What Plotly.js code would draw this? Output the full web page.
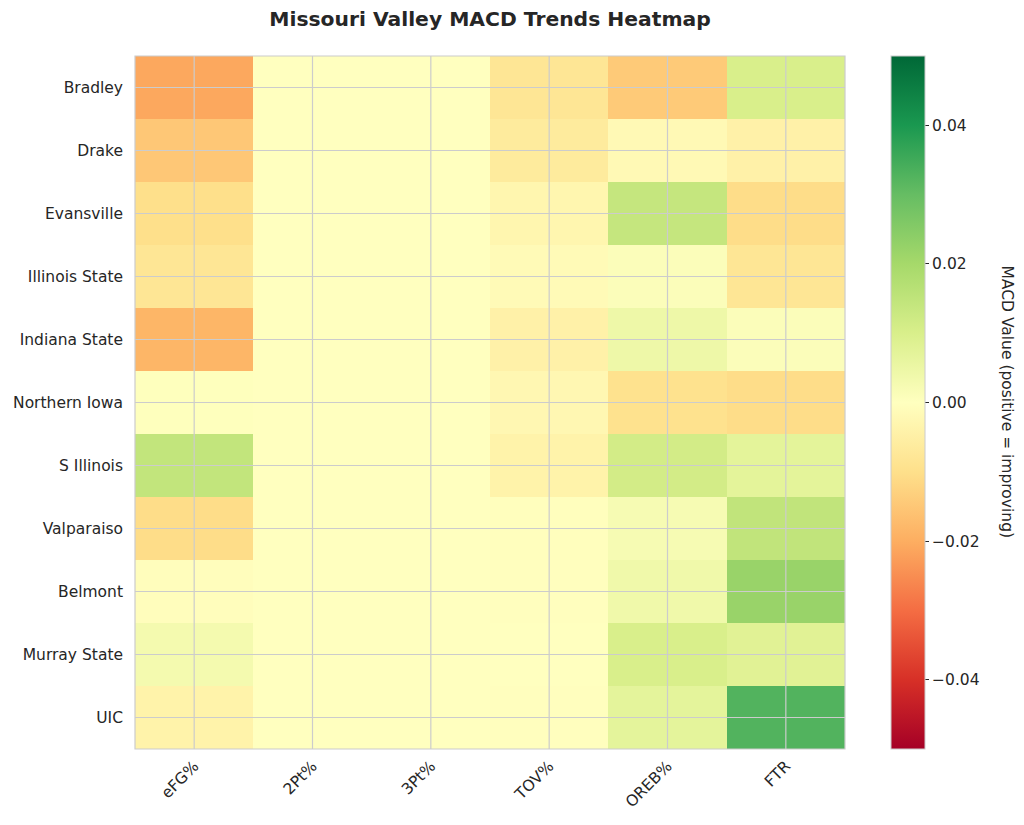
<!DOCTYPE html>
<html>
<head>
<meta charset="utf-8">
<script src="https://cdn.plot.ly/plotly-3.0.1.min.js"></script>
<style>html,body{margin:0;padding:0;background:#fff;}</style>
</head>
<body>
<div id="chart" style="width:1024px;height:825px;"></div>
<script>
const metrics = ['eFG%', '2Pt%', '3Pt%', 'TOV%', 'OREB%', 'FTR'];
const teams = ['Bradley', 'Drake', 'Evansville', 'Illinois State', 'Indiana State',
  'Northern Iowa', 'S Illinois', 'Valparaiso', 'Belmont', 'Murray State', 'UIC'];

// MACD values per team, in metric order
const bradley       = [-0.021, 0, 0, -0.008, -0.0145, 0.010];
const drake         = [-0.015, 0, 0, -0.0065, -0.002, -0.0045];
const evansville    = [-0.010, 0, 0, -0.003, 0.014, -0.0105];
const illinoisState = [-0.008, 0, 0, -0.0015, 0.001, -0.008];
const indianaState  = [-0.0185, 0, 0, -0.0045, 0.0045, 0.001];
const northernIowa  = [0.0003, 0, 0, -0.0025, -0.0095, -0.0105];
const sIllinois     = [0.0145, 0, 0, -0.004, 0.0112, 0.0071];
const valparaiso    = [-0.0105, 0, 0, -0.0003, 0.0024, 0.0148];
const belmont       = [-0.0005, 0, 0, -0.0002, 0.004, 0.022];
const murrayState   = [0.003, 0, 0, 0, 0.010, 0.008];
const uic           = [-0.004, 0, 0, -0.0002, 0.007, 0.0326];

const zValues = [bradley, drake, evansville, illinoisState, indianaState,
  northernIowa, sIllinois, valparaiso, belmont, murrayState, uic];

const colorbarTicks = [-0.04, -0.02, 0.0, 0.02, 0.04];

const rdylgn = [
  [0.0, '#a50026'], [0.1, '#d73027'], [0.2, '#f46d43'], [0.3, '#fdae61'],
  [0.4, '#fee08b'], [0.5, '#ffffbf'], [0.6, '#d9ef8b'], [0.7, '#a6d96a'],
  [0.8, '#66bd63'], [0.9, '#1a9850'], [1.0, '#006837']
];

const textColor = '#262626';
const gridColor = '#cccccc';
const fontFam = 'DejaVu Sans, sans-serif';
const tickSize = 15.5;

const trace = {
  type: 'heatmap',
  x: metrics,
  y: teams,
  z: zValues,
  zmin: -0.05,
  zmax: 0.05,
  colorscale: rdylgn,
  hoverinfo: 'skip',
  colorbar: {
    x: 1.0648, xanchor: 'left', xref: 'paper',
    y: 0.5, yanchor: 'middle',
    len: 1, lenmode: 'fraction',
    thickness: 34, thicknessmode: 'pixels',
    xpad: 0, ypad: 0,
    outlinecolor: gridColor, outlinewidth: 1,
    tickvals: colorbarTicks,
    tickformat: '.2f',
    ticks: 'outside', ticklen: 4, tickwidth: 1, tickcolor: textColor,
    tickfont: {family: fontFam, size: tickSize, color: textColor}
  }
};

const shapes = [];
metrics.forEach(m => shapes.push({
  type: 'line', xref: 'x', yref: 'paper', x0: m, x1: m, y0: 0, y1: 1,
  layer: 'above', line: {color: gridColor, width: 1.2}
}));
teams.forEach(t => shapes.push({
  type: 'line', xref: 'paper', yref: 'y', x0: 0, x1: 1, y0: t, y1: t,
  layer: 'above', line: {color: gridColor, width: 1.2}
}));
shapes.push({
  type: 'rect', xref: 'paper', yref: 'paper', x0: 0, x1: 1, y0: 0, y1: 1,
  layer: 'above', line: {color: gridColor, width: 1.2}
});

const layout = {
  width: 1024, height: 825,
  margin: {l: 135, r: 179, t: 56, b: 76},
  paper_bgcolor: '#ffffff', plot_bgcolor: '#ffffff',
  font: {family: fontFam, size: tickSize, color: textColor},
  title: {
    text: '<b>Missouri Valley MACD Trends Heatmap</b>',
    font: {family: fontFam, size: 20.3, color: textColor},
    x: 0.5, xref: 'paper', xanchor: 'center',
    y: 1 - 19 / 825, yref: 'container', yanchor: 'middle'
  },
  xaxis: {
    type: 'category',
    range: [-0.5, metrics.length - 0.5],
    tickangle: -45,
    tickfont: {family: fontFam, size: tickSize, color: textColor},
    showgrid: false, zeroline: false, showline: false,
    ticks: '', ticklabelstandoff: 4
  },
  yaxis: {
    type: 'category',
    range: [teams.length - 0.5, -0.5],
    tickfont: {family: fontFam, size: tickSize, color: textColor},
    showgrid: false, zeroline: false, showline: false,
    ticks: '', ticklabelstandoff: 11
  },
  shapes: shapes,
  annotations: [{
    text: 'MACD Value (positive = improving)',
    xref: 'paper', yref: 'paper',
    x: (1007 - 135) / 710, y: 0.5,
    xanchor: 'center', yanchor: 'middle',
    textangle: 90, showarrow: false,
    font: {family: fontFam, size: tickSize, color: textColor}
  }]
};

Plotly.newPlot('chart', [trace], layout, {displayModeBar: false, staticPlot: true});
</script>
</body>
</html>
